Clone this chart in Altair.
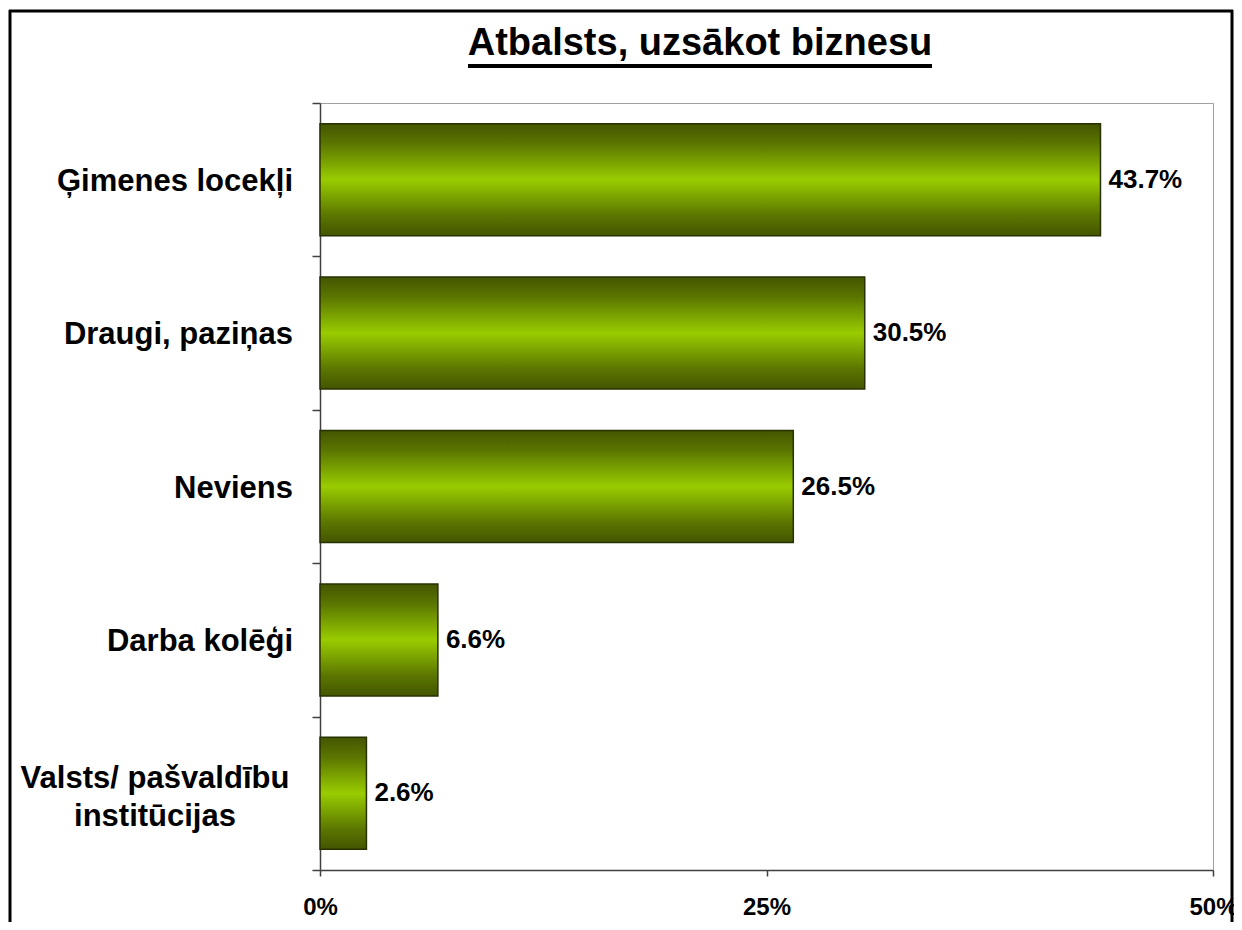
import altair as alt
import pandas as pd

title_text = "Atbalsts, uzsākot biznesu"
categories = ["Ģimenes locekļi", "Draugi, paziņas", "Neviens", "Darba kolēģi",
              "Valsts/ pašvaldību\ninstitūcijas"]
values = [43.7, 30.5, 26.5, 6.6, 2.6]
value_labels = ["43.7%", "30.5%", "26.5%", "6.6%", "2.6%"]
x_ticks = [0, 25, 50]

FONT = "Liberation Sans"

df = pd.DataFrame({"cat": categories, "val": values, "label": value_labels})
one = pd.DataFrame({"k": [0]})

W, H = 893, 767

x_enc = alt.X("val:Q", scale=alt.Scale(domain=[0, 50], nice=False),
              axis=alt.Axis(values=x_ticks, labelExpr="datum.value + '%'", grid=False,
                            tickSize=6, labelPadding=19, labelFontSize=24,
                            labelFontWeight="bold", labelColor="black", labelFont=FONT,
                            labelFlush=False,
                            domainColor="#404040", tickColor="#404040",
                            domainWidth=1.5, tickWidth=1.5, title=None))
y_enc = alt.Y("cat:N", sort=categories, title=None,
              scale=alt.Scale(paddingInner=0, paddingOuter=0),
              axis=alt.Axis(labels=False, ticks=True, tickSize=8,
                            tickBand="extent", domainColor="#404040", tickColor="#404040",
                            domainWidth=1.5, tickWidth=1.5))

grad = alt.Gradient(
    gradient="linear", x1=0, x2=0, y1=0, y2=1,
    stops=[alt.GradientStop(offset=0, color="#445500"),
           alt.GradientStop(offset=0.18, color="#5b7600"),
           alt.GradientStop(offset=0.5, color="#99cc00"),
           alt.GradientStop(offset=0.82, color="#5b7600"),
           alt.GradientStop(offset=1, color="#445500")])

bars = alt.Chart(df).mark_bar(fill=grad, stroke="#273200", strokeWidth=1.5,
                              height={"band": 0.73}).encode(x=x_enc, y=y_enc)

texts = alt.Chart(df).mark_text(align="left", baseline="middle", dx=8, fontSize=26,
                                fontWeight="bold", font=FONT, color="black").encode(
    x=x_enc, y=y_enc, text="label:N")

cat_single = alt.Chart(df).transform_filter("indexof(datum.cat, '\\n') < 0").mark_text(
    align="right", baseline="middle", fontSize=31, fontWeight="bold", font=FONT,
    color="black", dy=2).encode(x=alt.value(-27), y=y_enc, text="cat:N")

cat_multi = alt.Chart(df).transform_filter("indexof(datum.cat, '\\n') >= 0").mark_text(
    align="center", baseline="middle", fontSize=31, fontWeight="bold", font=FONT,
    color="black", lineBreak="\n", lineHeight=38, dy=-14).encode(
    x=alt.value(-165), y=y_enc, text="cat:N")

title = alt.Chart(one).mark_text(text=title_text, align="center", baseline="alphabetic",
                                 fontSize=38, fontWeight="bold", font=FONT,
                                 color="black").encode(
    x=alt.value(380), y=alt.value(-48))

underline = alt.Chart(one).mark_rule(color="black", strokeWidth=4).encode(
    x=alt.value(148), x2=alt.value(612), y=alt.value(-37))

border_top = alt.Chart(one).mark_rule(color="black", strokeWidth=3).encode(
    x=alt.value(-311), x2=alt.value(913), y=alt.value(-92))
border_left = alt.Chart(one).mark_rule(color="black", strokeWidth=3).encode(
    x=alt.value(-310), y=alt.value(-93), y2=alt.value(830))
border_right = alt.Chart(one).mark_rule(color="black", strokeWidth=3).encode(
    x=alt.value(912), y=alt.value(-93), y2=alt.value(830))

chart = alt.layer(bars, texts, cat_single, cat_multi, title, underline,
                  border_top, border_left, border_right).properties(
    width=W, height=H,
    padding={"left": 312, "top": 95, "right": 21, "bottom": 52},
    autosize=alt.AutoSizeParams(type="none"),
    background="white",
).configure_view(stroke="#a0a0a0", strokeWidth=1)

chart.save("out.html", embed_options={"renderer": "svg", "actions": False})
